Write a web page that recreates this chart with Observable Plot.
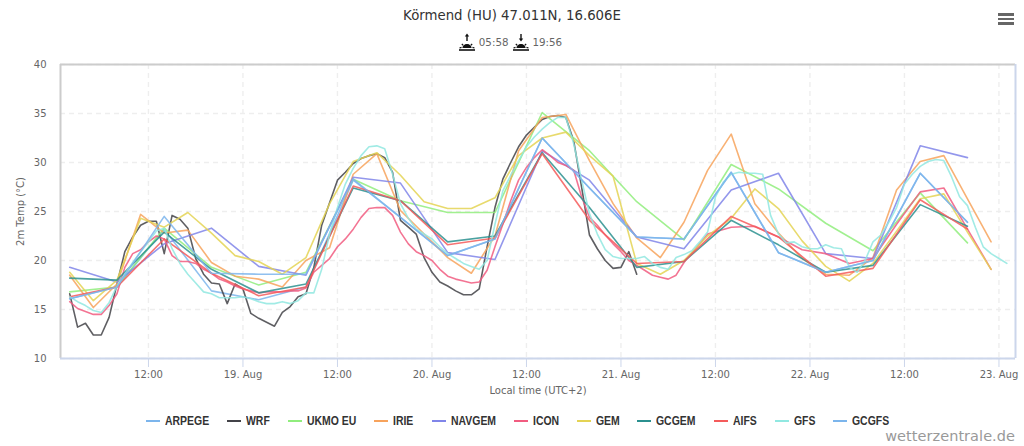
<!DOCTYPE html>
<html><head><meta charset="utf-8">
<script src="https://cdn.jsdelivr.net/npm/d3@7"></script>
<script src="https://cdn.jsdelivr.net/npm/@observablehq/plot@0.6"></script>
<style>
html,body{margin:0;padding:0;background:#fff;width:1024px;height:446px;overflow:hidden;font-family:"DejaVu Sans",sans-serif}
#head{height:52px;position:relative;text-align:center;color:#333}
#title{position:absolute;left:0;right:0;top:8px;font-size:13.3px;color:#333}
#sun{position:absolute;left:-4px;right:0;top:33px;height:18px;font-size:10.3px;color:#666;display:flex;justify-content:center;align-items:center;gap:3px}
#menu{position:absolute;left:998px;top:13px;width:16px}
#menu i{display:block;height:2.6px;background:#666;margin-bottom:2px}
#chart svg{display:block}
#legend{position:absolute;left:146px;top:414px;display:flex;gap:18px;font:bold 12px "Liberation Sans",sans-serif;color:#333;white-space:nowrap}
#legend span{display:flex;align-items:center;gap:5px}
#legend b{display:inline-block;width:14px;height:2px}
#legend em{display:inline-block;font-style:normal;transform-origin:0 50%}
#mark{position:absolute;right:9px;top:428px;font-size:14.5px;color:#999;letter-spacing:.05px}
</style></head><body>
<div id="head">
<div id="title">Körmend (HU) 47.011N, 16.606E</div>
<div id="sun"></div>
<div id="menu"><i></i><i></i><i></i></div>
</div>
<div id="chart"></div>
<div id="legend"></div>
<div id="mark">wetterzentrale.de</div>
<script>
// Hours after 18 Aug 00:00 local time
const tickHours = [12,24,36,48,60,72,84,96,108,120];
const tickLabels = ["12:00","19. Aug","12:00","20. Aug","12:00","21. Aug","12:00","22. Aug","12:00","23. Aug"];
const yTicks = [10,15,20,25,30,35,40];

const names = ["ARPEGE","WRF","UKMO EU","IRIE","NAVGEM","ICON","GEM","GCGEM","AIFS","GFS","GCGFS"];
const colors = ["#7cb5ec","#434348","#90ed7d","#f7a35c","#8085e9","#f15c80","#e4d354","#2b908f","#f45b5b","#91e8e1","#7cb5ec"];

const hours6 = [2,8,14,20,26,32,38,44,50,56,62,68,74,80,86,92,98,104,110,116];
const hours3 = [2,5,8,11,14,17,20,23,26,29,32,35,38,41,44,47,50,53,56,59,62,65,68,71,74,77,80,83,86,89,92,95,98,101,104,107,110,113,116,119];
const hoursWRF = d3.range(2,75);
const hoursICON = [...d3.range(2,81),83,86,89,92,95,98,101,104,107,110,113,116,119];
const hoursGFS = d3.range(2,122);

const arpege = [16.1,17.3,23.2,16.9,16.0,17.3,28.2,24.4,20.5,22.2,32.5,27.4,22.4,22.2,29.0,20.8,18.8,20.0,28.9,23.9];
const wrf = [16.6,13.2,13.6,12.4,12.4,14.2,17.6,20.9,22.4,23.6,24.0,24.0,20.7,24.6,24.2,23.3,20.2,18.6,17.7,17.6,15.6,17.6,17.1,14.6,14.1,13.7,13.3,14.7,15.3,16.3,16.6,19.3,23.6,25.9,28.2,29.0,29.9,30.4,30.7,30.9,30.5,29.0,24.1,23.4,22.7,20.3,18.8,17.8,17.4,16.9,16.5,16.5,17.1,21.4,25.4,28.3,30.0,31.6,32.8,33.6,34.4,34.7,34.8,34.6,32.2,27.5,22.6,21.2,20.0,19.2,19.3,20.9,18.6];
const ukmo = [16.8,17.3,23.3,19.3,17.5,18.8,28.3,26.1,24.9,24.9,35.1,31.2,26.0,22.1,29.8,27.3,23.8,21.0,26.9,21.8];
const irie = [18.5,15.2,17.6,24.7,22.8,23.1,19.8,18.4,18.1,17.3,20.0,21.3,28.8,30.9,25.1,22.7,20.3,18.7,22.5,31.2,34.6,34.9,30.2,25.8,22.3,20.3,23.9,29.2,32.9,25.8,22.8,20.2,18.6,18.5,20.3,27.2,30.1,30.7,26.3,21.9];
const navgem = [19.3,17.8,21.7,23.3,19.4,18.5,28.5,27.9,20.8,20.1,31.2,28.2,22.4,21.2,27.2,28.9,20.7,20.2,31.7,30.5];
const icon = [15.8,15.1,14.8,14.5,14.5,15.4,16.6,19.3,20.7,21.1,21.9,22.5,22.2,20.5,19.9,19.9,19.7,19.1,18.7,18.1,17.8,17.4,17.1,16.9,16.7,16.8,16.8,16.8,16.9,16.9,17.2,18.8,19.5,20.2,21.4,22.2,23.2,24.4,25.3,25.4,25.4,24.6,22.9,21.7,20.9,20.5,20.0,19.1,18.4,18.1,17.9,17.7,17.8,19.0,21.4,23.7,26.1,28.2,29.5,30.5,31.3,30.7,30.0,29.7,29.2,26.5,24.4,23.6,22.6,21.7,20.9,20.0,19.5,19.0,18.5,18.3,18.1,18.5,19.8,22.7,23.4,23.5,22.4,21.1,20.7,19.7,20.2,23.7,27.0,27.4,23.2,19.1];
const gem = [18.8,15.9,18.0,24.3,23.4,24.9,22.8,20.5,19.9,18.6,20.3,25.8,30.1,31.0,28.7,26.0,25.3,25.3,26.4,30.7,32.5,33.1,30.7,28.6,19.7,18.6,20.0,22.5,24.3,27.3,25.3,22.0,19.4,17.9,19.7,23.0,26.3,26.8,22.9,19.1];
const gcgem = [18.2,18.0,22.9,19.1,16.7,17.6,27.4,26.1,21.9,22.5,31.0,25.4,19.3,19.9,24.1,21.6,18.8,19.5,25.7,23.5];
const aifs = [16.3,17.3,22.2,18.7,16.4,17.3,27.6,26.1,21.6,22.3,30.9,24.1,19.7,19.9,24.5,22.4,18.4,19.2,26.2,23.2];
const gfs = [16.3,15.8,15.4,14.9,14.7,15.7,17.4,18.6,19.8,20.9,21.9,23.0,23.3,21.2,19.7,18.6,17.7,16.8,16.6,16.2,16.2,16.2,16.3,16.1,15.8,15.6,15.6,15.8,15.6,15.9,16.7,16.7,19.1,22.7,25.4,27.8,29.4,30.7,31.6,31.7,31.4,28.8,25.8,24.3,23.2,22.7,22.2,21.4,20.7,20.2,19.7,19.4,19.1,20.0,23.7,27.1,28.7,30.2,31.6,32.6,33.4,34.1,34.6,34.6,31.9,28.2,24.8,22.7,21.1,20.4,20.2,20.2,20.2,20.4,19.7,19.3,19.1,20.3,20.6,21.0,21.9,22.9,26.5,28.0,28.8,29.0,28.9,28.9,28.8,24.6,22.7,21.8,21.9,21.4,21.2,21.2,21.6,21.3,21.2,19.3,18.8,20.0,21.9,22.6,23.9,25.4,27.8,28.8,29.6,30.1,30.3,30.2,28.5,26.5,25.6,23.4,21.4,20.7,20.2,19.7];
const gcgfs = [16.1,17.3,24.5,18.7,18.6,18.6,28.3,24.4,20.5,22.2,32.5,27.4,22.4,22.2,29.0,20.8,18.8,20.0,28.9,23.9];

const seriesValues = [arpege,wrf,ukmo,irie,navgem,icon,gem,gcgem,aifs,gfs,gcgfs];
const seriesHours = [hours6,hoursWRF,hours6,hours3,hours6,hoursICON,hours3,hours6,hours6,hoursGFS,hours6];
const rows = names.flatMap((name,i)=>seriesValues[i].map((v,j)=>({name,h:seriesHours[i][j],v})));

const gridDash = "5,4";
const gridColor = "#eeeeee";
const fig = Plot.plot({
  width:1024,height:348,marginLeft:60,marginRight:9,marginTop:12,marginBottom:42,
  style:{fontFamily:'"DejaVu Sans",sans-serif',fontSize:"10px",color:"#666",background:"#fff"},
  x:{type:"linear",domain:[0.83,122.1]},
  y:{domain:[10,40]},
  color:{domain:names,range:colors},
  marks:[
    Plot.gridX(tickHours,{stroke:gridColor,strokeOpacity:1,strokeWidth:1.4,strokeDasharray:gridDash}),
    Plot.gridY(yTicks,{stroke:gridColor,strokeOpacity:1,strokeWidth:1.4,strokeDasharray:gridDash}),
    Plot.ruleX([0.83],{stroke:"#ccc",strokeWidth:2}),
    Plot.ruleY([40],{stroke:"#ccc",strokeWidth:2}),
    Plot.ruleX([122.1],{stroke:"#ccd6eb",strokeWidth:2}),
    Plot.ruleY([10],{stroke:"#ccd6eb",strokeWidth:2}),
    Plot.axisX({ticks:tickHours,tickFormat:(d)=>tickLabels[tickHours.indexOf(d)],tickSize:9,tickPadding:3,stroke:"#ccd6eb",fill:"#666",
      label:"Local time (UTC+2)",labelAnchor:"center",labelArrow:"none",labelOffset:35}),
    Plot.axisY({ticks:yTicks,tickSize:0,tickPadding:14,fill:"#666",
      label:"2m Temp (°C)",labelAnchor:"center",labelArrow:"none",labelOffset:44}),
    Plot.line(rows,{x:"h",y:"v",z:"name",stroke:"name",strokeWidth:1.6,strokeOpacity:.85,curve:"linear"})
  ]
});
document.getElementById("chart").append(fig);

const legend = d3.select("#legend");
const legendSqueeze = 0.87;
names.forEach((n,i)=>{
  const s = legend.append("span");
  s.append("b").style("background",colors[i]);
  const em = s.append("em").text(n);
  const w = em.node().getBoundingClientRect().width;
  em.style("transform",`scaleX(${legendSqueeze})`).style("margin-right",`${-(1-legendSqueeze)*w}px`);
});

const sunIcon = (down)=>`<svg width="18" height="18" viewBox="0 0 18 18"><g stroke="#111" fill="none" stroke-width="1.2"><path d="M1 17H17" stroke-width="1.6"/><path d="M5 15a4 3.4 0 0 1 8 0" fill="#111"/><path d="M1.5 15L3.5 14.4M16.5 15L14.5 14.4M3.8 11L5.2 12.2M14.2 11L12.8 12.2"/><path d="M9 ${down?1:8}V${down?6:3}" stroke-width="1.4"/></g><path d="M6.8 ${down?5.5:3.5}L11.2 ${down?5.5:3.5}L9 ${down?8.5:.5}Z" fill="#111"/></svg>`;
document.getElementById("sun").innerHTML = `${sunIcon(false)}<span>05:58</span>${sunIcon(true)}<span>19:56</span>`;
</script>
</body></html>
